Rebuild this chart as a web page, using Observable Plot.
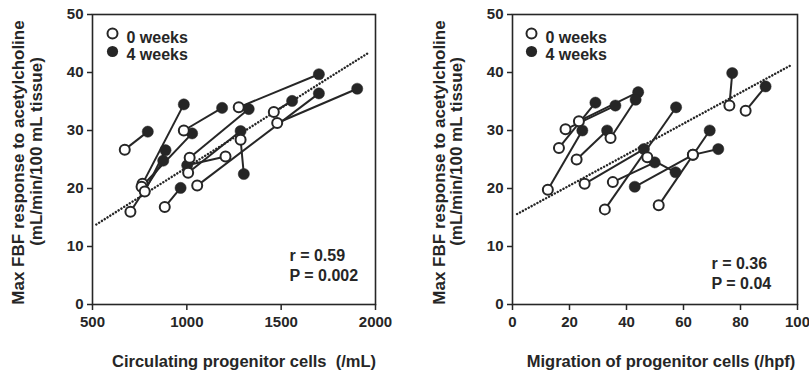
<!DOCTYPE html>
<html><head><meta charset="utf-8">
<script src="https://cdn.jsdelivr.net/npm/d3@7"></script>
<script src="https://cdn.jsdelivr.net/npm/@observablehq/plot@0.6"></script>
<style>
body{margin:0;background:#fff;}
#row{display:flex;width:809px;height:375px;}
</style></head><body><div id="row"></div><script>
// Left panel: circulating progenitor cells (/mL) vs Max FBF, 0 weeks -> 4 weeks per subject
const cells0 = [671, 765, 760, 777, 701, 883, 1015, 984, 1007, 1055, 1275, 1461, 1479, 1285, 1205];
const cells4 = [793, 984, 1028, 887, 875, 967, 1328, 1187, 1285, 1700, 1700, 1558, 1903, 1302, 1002];
const fbfL0  = [26.7, 20.8, 20.3, 19.5, 16.0, 16.8, 25.3, 30.0, 22.7, 20.5, 34.0, 33.2, 31.3, 28.4, 25.5];
const fbfL4  = [29.8, 34.5, 29.5, 26.6, 24.8, 20.1, 33.7, 33.9, 29.9, 36.4, 39.7, 35.1, 37.2, 22.5, 24.0];
// Right panel: migration of progenitor cells (/hpf) vs Max FBF
const mig0  = [12.4, 16.3, 18.6, 23.3, 22.5, 34.4, 25.3, 35.2, 32.4, 47.3, 51.3, 63.3, 63.3, 76.1, 81.8];
const mig4  = [24.5, 29.1, 36.1, 44.1, 33.2, 43.2, 46.1, 49.9, 57.4, 57.2, 69.2, 72.2, 42.9, 77.1, 88.8];
const fbfR0 = [19.8, 27.0, 30.2, 31.6, 25.0, 28.7, 20.8, 21.1, 16.4, 25.4, 17.1, 25.8, 25.8, 34.3, 33.4];
const fbfR4 = [30.0, 34.8, 34.3, 36.6, 30.0, 35.3, 26.8, 24.5, 34.0, 22.8, 30.0, 26.8, 20.3, 39.9, 37.6];
// Regression line end points
const fitLx = [520, 1958], fitLy = [13.8, 43.3];
const fitRx = [1.6, 97.5], fitRy = [15.6, 41.2];
// Ticks and labels
const ticksLx = [500, 1000, 1500, 2000];
const ticksRx = [0, 20, 40, 60, 80, 100];
const ticksY = [0, 10, 20, 30, 40, 50];
const legendLabels = ["0 weeks", "4 weeks"];
const yTitle = ["Max FBF response to acetylcholine", "(mL/min/100 mL tissue)"];
const statsL = ["r = 0.59", "P = 0.002"];
const statsR = ["r = 0.36", "P = 0.04"];

const INK = "#262626";
const FONT = "Liberation Sans, Arial, Helvetica, sans-serif";

function panel(o) {
  const pairs = o.x0.map((v, i) => ({x0: v, y0: o.y0[i], x1: o.x4[i], y1: o.y4[i]}));
  const fit = [{x1: o.fx[0], y1: o.fy[0], x2: o.fx[1], y2: o.fy[1]}];
  const cx = (o.marginLeft + o.width - o.marginRight) / 2;
  const T = {fill: INK, lineAnchor: "middle"};
  return Plot.plot({
    width: o.width, height: 375,
    marginLeft: o.marginLeft, marginRight: o.marginRight, marginTop: 14, marginBottom: 71,
    style: {fontFamily: FONT, fontWeight: "bold", fontSize: "15px", color: INK, background: "white", overflow: "visible"},
    x: {domain: o.xDomain},
    y: {domain: [0, 50]},
    marks: [
      Plot.axisX({ticks: o.xTicks, tickFormat: d => String(d), tickSize: 6, tickPadding: 6, label: null, stroke: INK, strokeWidth: 1.5, fontSize: 15}),
      Plot.axisY({ticks: ticksY, tickFormat: d => String(d), tickSize: 5, tickPadding: 4, label: null, stroke: INK, strokeWidth: 1.5, fontSize: 15}),
      Plot.frame({stroke: INK, strokeWidth: 1.6}),
      Plot.link(fit, {x1: "x1", y1: "y1", x2: "x2", y2: "y2", stroke: INK, strokeWidth: 2.4, strokeDasharray: "0.1 3.2", strokeLinecap: "round"}),
      Plot.link(pairs, {x1: "x0", y1: "y0", x2: "x1", y2: "y1", stroke: INK, strokeWidth: 2}),
      Plot.dot(pairs, {x: "x1", y: "y1", r: 5.6, fill: INK, stroke: INK, strokeWidth: 0.5}),
      Plot.dot(pairs, {x: "x0", y: "y0", r: 5, fill: "white", stroke: INK, strokeWidth: 2}),
      // legend
      Plot.dot([0], {frameAnchor: "top-left", dx: o.legDx, dy: 19, r: 5, fill: "white", stroke: INK, strokeWidth: 2}),
      Plot.dot([0], {frameAnchor: "top-left", dx: o.legDx, dy: 37, r: 5.6, fill: INK}),
      Plot.text([legendLabels[0]], {...T, frameAnchor: "top-left", dx: o.legDx + 14, dy: 23, fontSize: 16, textAnchor: "start"}),
      Plot.text([legendLabels[1]], {...T, frameAnchor: "top-left", dx: o.legDx + 14, dy: 40, fontSize: 16, textAnchor: "start"}),
      // stats
      Plot.text([o.stats[0]], {...T, frameAnchor: "top-left", dx: o.statDx, dy: o.statDy, fontSize: 16, textAnchor: "start"}),
      Plot.text([o.stats[1]], {...T, frameAnchor: "top-left", dx: o.statDx, dy: o.statDy + 20, fontSize: 16, textAnchor: "start"}),
      // axis titles
      Plot.text([o.xLabel], {...T, frameAnchor: "bottom", dx: o.xtDx, dy: 57, fontSize: 16.5}),
      Plot.text([yTitle[0]], {...T, frameAnchor: "middle", dx: o.yt1 - cx, dy: 3, rotate: -90, fontSize: 17}),
      Plot.text([yTitle[1]], {...T, frameAnchor: "middle", dx: o.yt2 - cx, dy: -8, rotate: -90, fontSize: 17})
    ]
  });
}

const row = document.getElementById("row");
row.append(panel({
  width: 404, marginLeft: 92, marginRight: 29, xDomain: [500, 2000], xTicks: ticksLx,
  x0: cells0, x4: cells4, y0: fbfL0, y4: fbfL4, fx: fitLx, fy: fitLy,
  xLabel: "Circulating progenitor cells  (/mL)", xtDx: 10, stats: statsL, statDx: 197, statDy: 241,
  legDx: 20, yt1: 18, yt2: 36
}));
row.append(panel({
  width: 405, marginLeft: 108, marginRight: 12, xDomain: [0, 100], xTicks: ticksRx,
  x0: mig0, x4: mig4, y0: fbfR0, y4: fbfR4, fx: fitRx, fy: fitRy,
  xLabel: "Migration of progenitor cells (/hpf)", xtDx: 6, stats: statsR, statDx: 199, statDy: 249,
  legDx: 19, yt1: 35, yt2: 52
}));
</script></body></html>
